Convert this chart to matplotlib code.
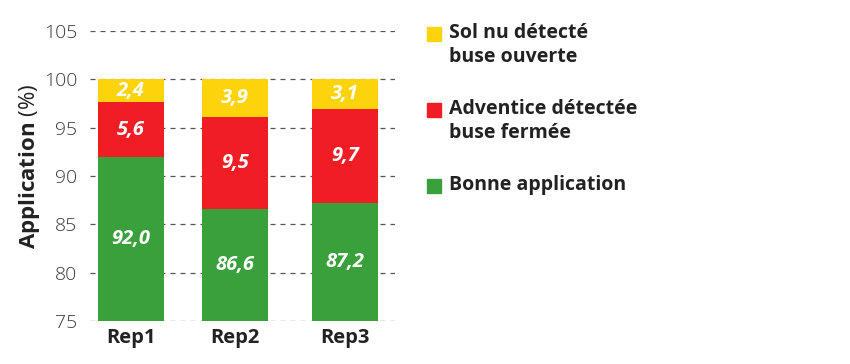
import matplotlib
matplotlib.use("Agg")
import matplotlib.pyplot as plt
from matplotlib.patches import Rectangle

plt.rcParams["font.family"] = ["Open Sans", "DejaVu Sans"]
plt.rcParams["mathtext.fontset"] = "custom"
plt.rcParams["mathtext.bf"] = "Open Sans:bold"
plt.rcParams["mathtext.rm"] = "Open Sans"

# ── Data ──────────────────────────────────────────────────────────────────────
reps = ["Rep1", "Rep2", "Rep3"]
bonne = [92.0, 86.6, 87.2]
adventice = [5.6, 9.5, 9.7]
sol_nu = [2.4, 3.9, 3.1]

series_names = ["Sol nu détecté\nbuse ouverte",
                "Adventice détectée\nbuse fermée",
                "Bonne application"]
yticks = [75, 80, 85, 90, 95, 100, 105]

C_YELLOW = "#FDD30B"
C_RED = "#F01E24"
C_GREEN = "#39A03C"


def fr(v):
    return f"{v:.1f}".replace(".", ",")


# ── Plot ──────────────────────────────────────────────────────────────────────
fig = plt.figure(figsize=(8.5, 3.64), dpi=100)
ax_left, ax_w = 0.106, 0.359
ax = fig.add_axes([ax_left, 0.118, ax_w, 0.797])

x = [0, 1.0, 2.06]
w = 0.63
ymin = 75

green_h = [b - ymin for b in bonne]
ax.bar(x, green_h, w, bottom=ymin, color=C_GREEN, zorder=3)
ax.bar(x, adventice, w, bottom=bonne, color=C_RED, zorder=3)
top_red = [b + a for b, a in zip(bonne, adventice)]
ax.bar(x, sol_nu, w, bottom=top_red, color=C_YELLOW, zorder=3)

lab_kw = dict(ha="center", va="center", color="white", fontsize=14.5,
              fontweight="bold", style="italic", zorder=4)
for xi, b, a, s, t in zip(x, bonne, adventice, sol_nu, top_red):
    ax.text(xi, (ymin + b) / 2, fr(b), **lab_kw)
    ax.text(xi, b + a / 2, fr(a), **lab_kw)
    ax.text(xi, t + s / 2, fr(s), **lab_kw)

ax.set_ylim(75, 105)
ax.set_xlim(-0.39, 2.54)
ax.set_yticks(yticks)
ax.set_yticklabels([str(t) for t in yticks], fontsize=14, color="#3a3a3a",
                   fontweight="light")
ax.set_xticks(x)
ax.set_xticklabels(reps, fontsize=14.5, fontweight="bold", color="#222222")
ax.tick_params(length=0, axis="both")
ax.tick_params(axis="y", pad=9)
ax.tick_params(axis="x", pad=5)
for sp in ax.spines.values():
    sp.set_visible(False)
ax.yaxis.grid(True, linestyle=(0, (4, 4)), color="#555555", lw=0.9, zorder=0)
ax.set_axisbelow(True)

# y label: bold "Application" + regular "(%)"
ax.set_ylabel(r"$\bf{Application}$ (%)", fontsize=16, color="#222222")
ax.yaxis.set_label_coords((42 / 850 - ax_left) / ax_w, 0.533)

# legend
leg_colors = [C_YELLOW, C_RED, C_GREEN]
leg_tops = [27, 103, 179]
for name, c, top in zip(series_names, leg_colors, leg_tops):
    fig.patches.append(Rectangle((427 / 850, 1 - (top + 14) / 364),
                                 14 / 850, 14 / 364, color=c,
                                 transform=fig.transFigure, figure=fig))
    fig.text(449 / 850, 1 - (top - 4) / 364, name, ha="left", va="top",
             fontsize=14, fontweight="bold", color="#222222",
             linespacing=1.3)

fig.savefig("out.png", dpi=100)
